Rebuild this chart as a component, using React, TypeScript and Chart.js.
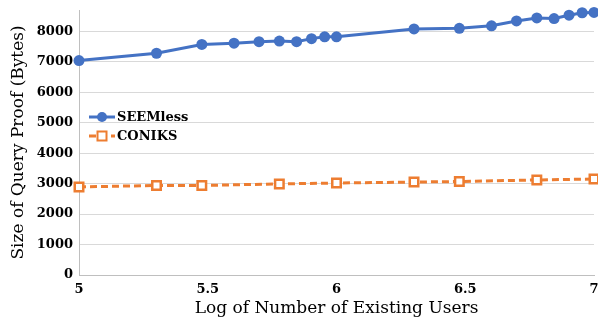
import React, { useEffect, useRef } from 'react';
import { Chart, registerables } from 'chart.js';

Chart.register(...registerables);

const seemlessX = [5, 5.301, 5.477, 5.602, 5.699, 5.778, 5.845, 5.903, 5.954, 6, 6.301, 6.477, 6.602, 6.699, 6.778, 6.845, 6.903, 6.954, 7];
const seemlessY = [7040, 7280, 7570, 7610, 7660, 7680, 7660, 7760, 7820, 7820, 8080, 8100, 8180, 8340, 8440, 8420, 8530, 8610, 8620];
const coniksX = [5, 5.301, 5.477, 5.778, 6, 6.301, 6.477, 6.778, 7];
const coniksY = [2890, 2940, 2940, 2990, 3020, 3050, 3070, 3120, 3150];
const xTicks = [5, 5.5, 6, 6.5, 7];
const xTickLabels = ['5', '5.5', '6', '6.5', '7'];
const yTicks = [0, 1000, 2000, 3000, 4000, 5000, 6000, 7000, 8000];
const yTickLabels = ['0', '1000', '2000', '3000', '4000', '5000', '6000', '7000', '8000'];
const seriesLabels = ['SEEMless', 'CONIKS'];
const xTitle = 'Log of Number of Existing Users';
const yTitle = 'Size of Query Proof (Bytes)';

const FONT = '"DejaVu Serif", serif';
const BLUE = '#4472C4';
const ORANGE = '#ED7D31';

const insideLegend = {
  id: 'insideLegend',
  afterDraw(chart: any) {
    const { ctx, chartArea } = chart;
    const x0 = chartArea.left + 10;
    const y0 = chartArea.top + 107;
    chart.data.datasets.forEach((ds: any, i: number) => {
      const y = y0 + i * 19;
      ctx.save();
      ctx.strokeStyle = ds.borderColor;
      ctx.lineWidth = 3;
      ctx.setLineDash(ds.borderDash || []);
      ctx.beginPath();
      ctx.moveTo(x0, y);
      ctx.lineTo(x0 + 26, y);
      ctx.stroke();
      ctx.setLineDash([]);
      const mx = x0 + 13;
      if (ds.pointStyle === 'rect') {
        ctx.fillStyle = '#ffffff';
        ctx.lineWidth = 2;
        ctx.fillRect(mx - 4.5, y - 4.5, 9, 9);
        ctx.strokeRect(mx - 4.5, y - 4.5, 9, 9);
      } else {
        ctx.fillStyle = ds.pointBackgroundColor;
        ctx.beginPath();
        ctx.arc(mx, y, 5, 0, Math.PI * 2);
        ctx.fill();
      }
      ctx.fillStyle = '#000000';
      ctx.font = `bold 13px ${FONT}`;
      ctx.textBaseline = 'middle';
      ctx.textAlign = 'left';
      ctx.fillText(ds.label, x0 + 28, y + 1);
      ctx.restore();
    });
  },
};

export default function App() {
  const ref = useRef<HTMLCanvasElement | null>(null);
  useEffect(() => {
    document.body.style.margin = '0';
    if (!ref.current) return;
    const chart = new Chart(ref.current, {
      type: 'line',
      data: {
        datasets: [
          {
            label: seriesLabels[0],
            data: seemlessX.map((x, i) => ({ x, y: seemlessY[i] })),
            borderColor: BLUE,
            backgroundColor: BLUE,
            pointBackgroundColor: BLUE,
            pointBorderColor: BLUE,
            pointBorderWidth: 0,
            borderWidth: 3,
            pointRadius: 5.5,
            pointStyle: 'circle',
            clip: false as any,
          },
          {
            label: seriesLabels[1],
            data: coniksX.map((x, i) => ({ x, y: coniksY[i] })),
            borderColor: ORANGE,
            backgroundColor: '#ffffff',
            pointBackgroundColor: '#ffffff',
            pointBorderColor: ORANGE,
            pointBorderWidth: 2.5,
            borderWidth: 3,
            borderDash: [7, 4],
            pointRadius: 6,
            pointStyle: 'rect',
            clip: false as any,
          },
        ],
      },
      options: {
        animation: false,
        responsive: false,
        layout: { autoPadding: false, padding: { top: 10, right: 4, left: 0, bottom: 0 } },
        plugins: {
          legend: { display: false },
          tooltip: { enabled: false },
        },
        scales: {
          x: {
            type: 'linear',
            min: 5,
            max: 7,
            afterBuildTicks: (scale: any) => {
              scale.ticks = xTicks.map((v) => ({ value: v }));
            },
            afterFit: (scale: any) => {
              scale.height = 49;
              scale.paddingLeft = 0;
              scale.paddingRight = 0;
            },
            grid: { display: true, drawOnChartArea: false, drawTicks: false },
            border: { display: true, color: '#bfbfbf', width: 1 },
            ticks: {
              padding: 7,
              color: '#000000',
              font: { family: FONT, size: 13, weight: 'bold' },
              maxRotation: 0,
              autoSkip: false,
              callback: (_v: any, i: number) => xTickLabels[i],
            },
            title: {
              display: true,
              text: xTitle,
              color: '#000000',
              font: { family: FONT, size: 17 },
              padding: { top: 0, bottom: 5 },
            },
          },
          y: {
            type: 'linear',
            min: 0,
            max: 8700,
            afterBuildTicks: (scale: any) => {
              scale.ticks = yTicks.map((v) => ({ value: v }));
            },
            afterFit: (scale: any) => {
              scale.width = 79;
              scale.paddingTop = 0;
              scale.paddingBottom = 0;
            },
            grid: { color: '#d9d9d9', lineWidth: 1, drawTicks: false },
            border: { display: true, color: '#bfbfbf', width: 1 },
            ticks: {
              padding: 6,
              color: '#000000',
              font: { family: FONT, size: 13, weight: 'bold' },
              autoSkip: false,
              callback: (_v: any, i: number) => yTickLabels[i],
            },
            title: {
              display: true,
              text: yTitle,
              color: '#000000',
              font: { family: FONT, size: 17 },
              padding: { top: 8, bottom: 0 },
            },
          },
        },
      },
      plugins: [insideLegend],
    });
    return () => chart.destroy();
  }, []);
  return <canvas ref={ref} width={598} height={324} style={{ display: 'block' }} />;
}
